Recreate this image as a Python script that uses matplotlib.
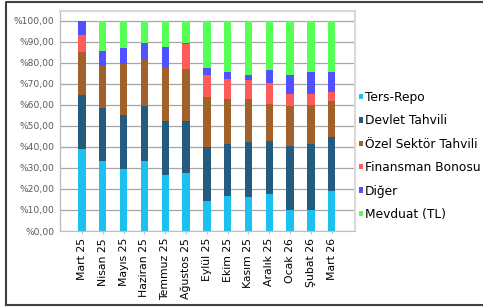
import matplotlib.pyplot as plt
from matplotlib.patches import Patch
from matplotlib.lines import Line2D

months = ['Mart 25', 'Nisan 25', 'Mayıs 25', 'Haziran 25', 'Temmuz 25', 'Ağustos 25',
          'Eylül 25', 'Ekim 25', 'Kasım 25', 'Aralık 25', 'Ocak 26', 'Şubat 26', 'Mart 26']

ters_repo = [38.9, 33.3, 29.7, 33.3, 26.7, 27.5, 14.3, 16.8, 16.3, 17.5, 10.1, 10.0, 18.9]
devlet    = [25.9, 25.3, 25.6, 26.2, 25.7, 24.9, 25.7, 24.8, 26.2, 25.2, 30.4, 31.4, 25.7]
ozel      = [20.4, 20.0, 24.2, 22.1, 25.4, 24.9, 23.7, 21.3, 20.4, 17.9, 19.2, 18.7, 17.2]
finansman = [8.0, 0.0, 0.0, 0.0, 0.0, 11.6, 10.6, 9.5, 9.0, 9.9, 5.7, 5.1, 4.4]
diger     = [6.8, 7.3, 7.6, 8.1, 10.0, 0.8, 3.5, 3.3, 2.6, 6.0, 8.9, 10.7, 9.4]
mevduat   = [0.0, 14.1, 12.9, 10.3, 12.2, 10.3, 22.2, 24.3, 25.5, 23.5, 25.7, 24.1, 24.4]

series = [('Ters-Repo', ters_repo, '#1CC1F0'),
          ('Devlet Tahvili', devlet, '#245B7E'),
          ('Özel Sektör Tahvili', ozel, '#A2602A'),
          ('Finansman Bonosu', finansman, '#FF5B5B'),
          ('Diğer', diger, '#5151FF'),
          ('Mevduat (TL)', mevduat, '#55FF55')]

fig = plt.figure(figsize=(4.83, 3.07), dpi=100)
ax = fig.add_axes([60 / 483, 1 - 231 / 307, 295 / 483, 220 / 307])

x = list(range(len(months)))
bottom = [0.0] * len(months)
handles = []
for name, vals, col in series:
    ax.bar(x, vals, 0.35, bottom=bottom, color=col, zorder=3)
    bottom = [b + v for b, v in zip(bottom, vals)]
    handles.append(Patch(facecolor=col, label=name))

ax.set_ylim(0, 104.76)
ax.set_xlim(-1.06, 13.12)
yt = list(range(0, 101, 10))
ax.set_yticks(yt)
ax.set_yticklabels(['%' + f'{v},00' for v in yt], fontsize=6.6, color='#595959')
ax.grid(axis='y', color='#A6A6A6', linewidth=0.9, zorder=0)
ax.tick_params(axis='y', length=0, pad=4)
ax.set_xticks(x)
ax.set_xticklabels(months, rotation=90, fontsize=7.8,
                   family=['Liberation Sans Narrow', 'DejaVu Sans'])
ax.tick_params(axis='x', length=2, color='#BFBFBF', pad=3)

for side in ['top', 'right', 'left']:
    ax.spines[side].set_color('#D9D9D9')
    ax.spines[side].set_linewidth(1.5)
ax.spines['left'].set_color('#BFBFBF')
ax.spines['left'].set_linewidth(1.0)
ax.spines['bottom'].set_color('#BFBFBF')

fig.legend(handles=handles, loc='center left', bbox_to_anchor=(359 / 483, 1 - 156 / 307),
           frameon=False, fontsize=8.8, handlelength=0.3, handleheight=0.3,
           handletextpad=0.2, labelspacing=0.85, borderpad=0, borderaxespad=0)

# outer chart frame
fig.add_artist(Line2D([6 / 483, 6 / 483, 1.0], [1 - 305 / 307, 1 - 2 / 307, 1 - 2 / 307],
                      color='#404040', linewidth=1.5))
fig.add_artist(Line2D([6 / 483, 1.0], [1 - 305 / 307, 1 - 305 / 307],
                      color='#404040', linewidth=1.5))

fig.savefig('out.png', dpi=100)
